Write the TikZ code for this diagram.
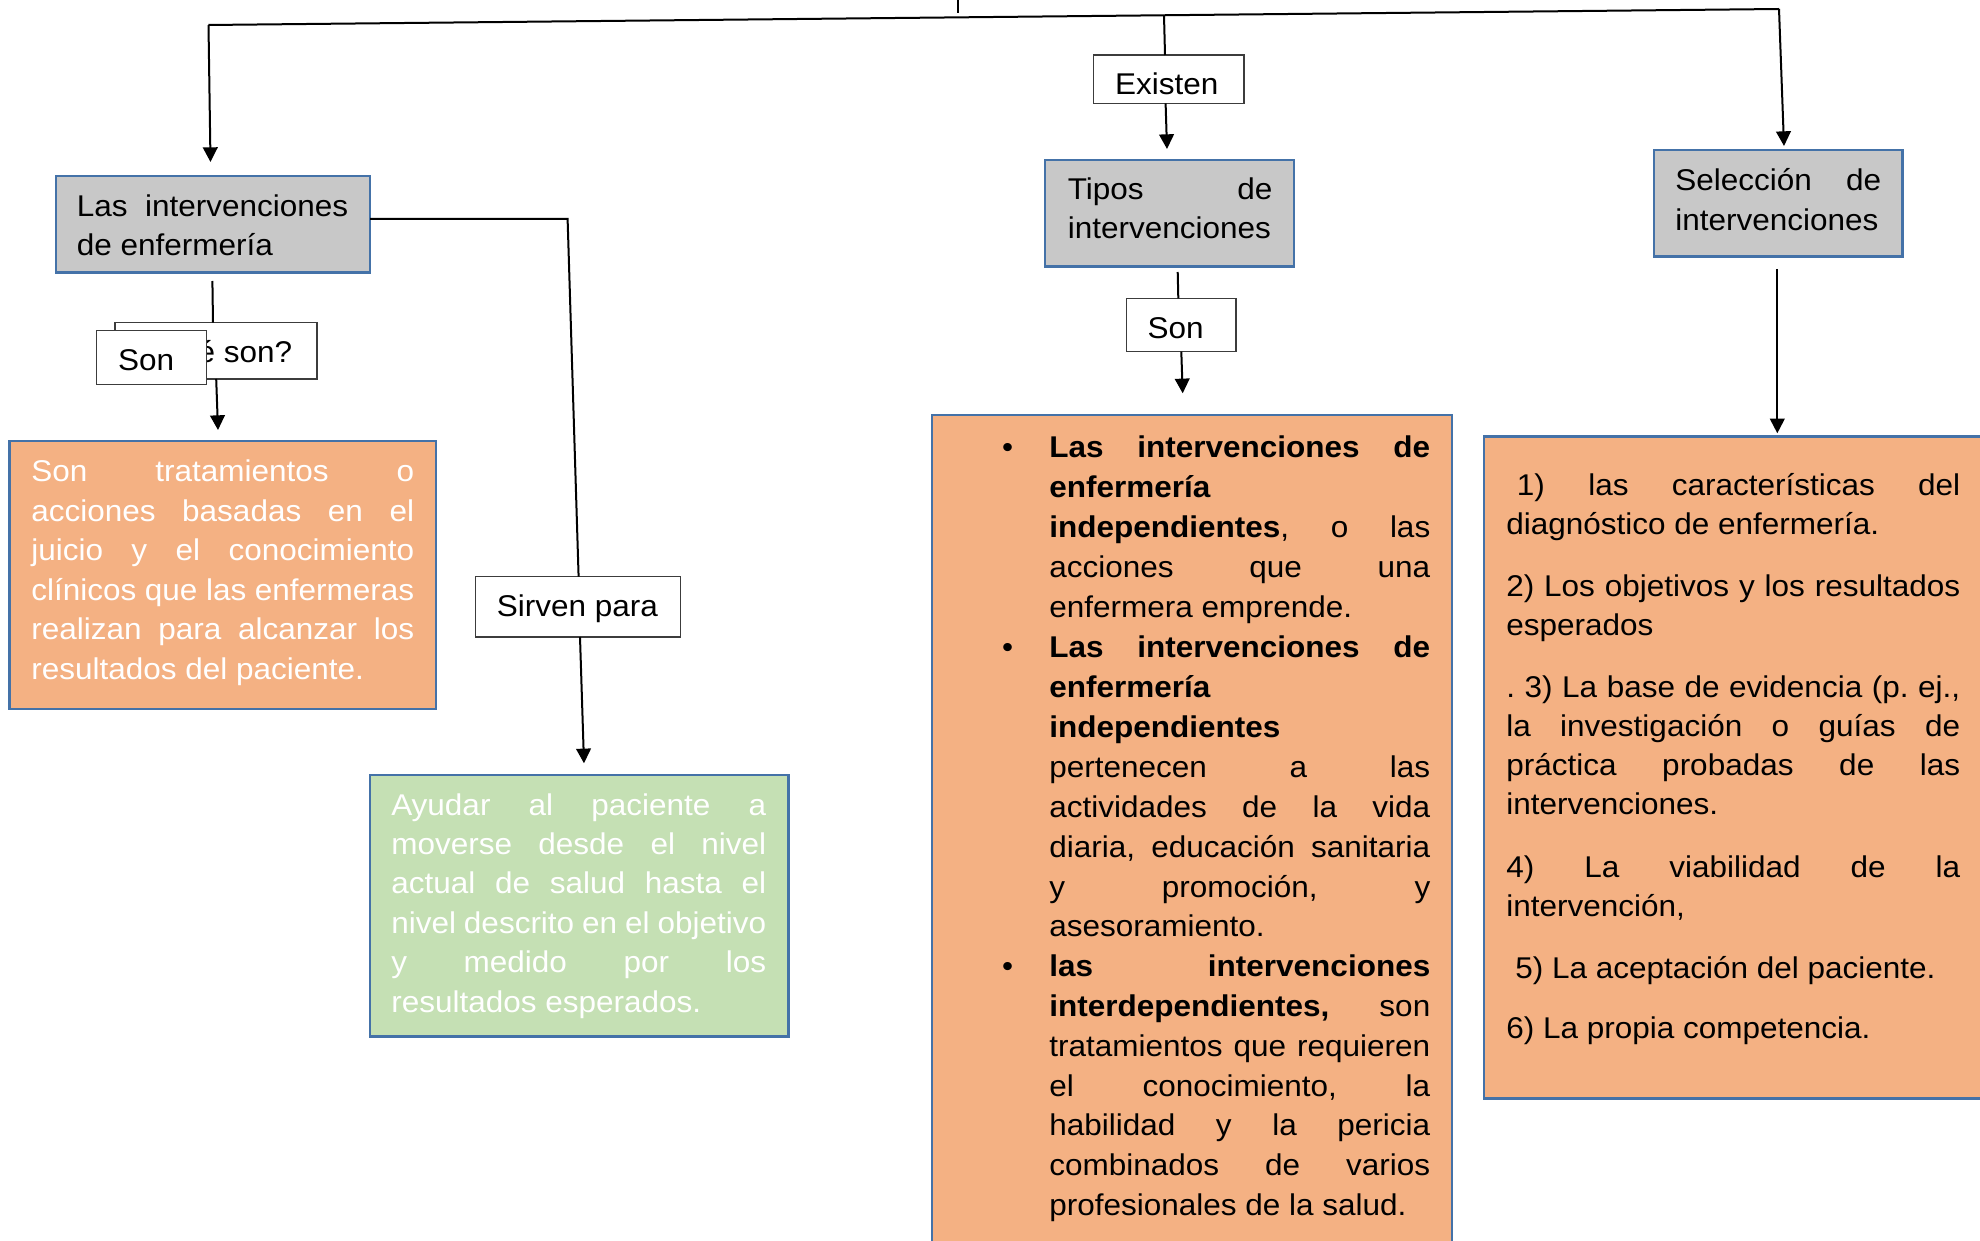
\documentclass[tikz,border=0pt]{standalone}
\usepackage{fontspec}
\setmainfont{Liberation Sans}[FakeStretch=1.05]
\usetikzlibrary{arrows.meta,fit}
\definecolor{bordblue}{RGB}{68,114,168}
\definecolor{boxgray}{RGB}{200,200,200}
\definecolor{boxorange}{RGB}{244,177,131}
\definecolor{boxgreen}{RGB}{197,224,180}
\definecolor{lblline}{RGB}{60,60,60}
\newcommand\JL[1]{\par\noindent\hbox to\hsize{#1}\par}
\newcommand\NL[1]{\par\noindent\hbox{#1}\par}
\newcommand\TB[3]{\vtop{\hsize=#1\relax\parindent=0pt\parskip=0pt\frenchspacing\baselineskip=#2\relax #3}}
\tikzset{
  gbox/.style={draw=bordblue, line width=1.9pt, fill=boxgray, inner sep=0pt},
  obox/.style={draw=bordblue, line width=1.9pt, fill=boxorange, inner sep=0pt},
  grbox/.style={draw=bordblue, line width=1.9pt, fill=boxgreen, inner sep=0pt},
  lbox/.style={draw=lblline, line width=1.1pt, fill=white, inner sep=0pt},
  txt/.style={anchor=base west, inner sep=0pt, font=\fontsize{22.5pt}{29pt}\selectfont},
  wtxt/.style={txt, text=white},
  bul/.style={anchor=base, inner sep=0pt, font=\fontsize{22.5pt}{29pt}\selectfont},
  conn/.style={line width=1.5pt, draw=black},
  arr/.style={conn, -{Triangle[length=11pt,width=11pt]}},
}
\begin{document}
\begin{tikzpicture}[x=0.75pt,y=-0.75pt]
\useasboundingbox (0,0) rectangle (1980,1241);
\clip (0,0) rectangle (1980,1241);

% ---------- main boxes ----------
\node[gbox, fit={(56,176) (370,272.7)}] (b1) {};
\node[txt] (b1t) at (76.5,217) {\TB{203.6pt}{28.9pt}{\JL{Las intervenciones}\NL{de enfermería}}};

\node[obox, fit={(9.6,441) (436,709)}] (o1) {};
\node[wtxt] (o1t) at (31,481.7) {\TB{287.25pt}{29.6pt}{%
\JL{Son tratamientos o}\JL{acciones basadas en el}\JL{juicio y el conocimiento}%
\JL{clínicos que las enfermeras}\JL{realizan para alcanzar los}\NL{resultados del paciente.}}};

\node[grbox, fit={(370,775) (788.3,1036.7)}] (gr) {};
\node[wtxt] (grt) at (391,815) {\TB{281.25pt}{29.6pt}{%
\JL{Ayudar al paciente a}\JL{moverse desde el nivel}\JL{actual de salud hasta el}%
\JL{nivel descrito en el objetivo}\JL{y medido por los}\NL{resultados esperados.}}};

\node[gbox, fit={(1045,160) (1293.75,266.7)}] (tip) {};
\node[txt] (tipt) at (1067.5,200) {\TB{153.4pt}{28.5pt}{\JL{Tipos de}\NL{intervenciones}}};

\node[gbox, fit={(1654,150) (1902.5,256.7)}] (sel) {};
\node[txt] (selt) at (1675,190.7) {\TB{154.5pt}{29.5pt}{\JL{Selección de}\NL{intervenciones}}};

\node[obox, fit={(932,415) (1452,1270)}] (big) {};
\node[bul] (bu1) at (1007.5,457.8) {•};
\node[bul] (bu2) at (1007.5,657.8) {•};
\node[bul] (bu3) at (1007.5,976.5) {•};
\node[txt] (bl1) at (1049,457.8) {\TB{285.75pt}{29.9pt}{%
\JL{\textbf{Las intervenciones de}}\NL{\textbf{enfermería}}\JL{\textbf{independientes}, o las}%
\JL{acciones que una}\NL{enfermera emprende.}}};
\node[txt] (bl2) at (1049,657.8) {\TB{285.75pt}{29.9pt}{%
\JL{\textbf{Las intervenciones de}}\NL{\textbf{enfermería}}\NL{\textbf{independientes}}%
\JL{pertenecen a las}\JL{actividades de la vida}\JL{diaria, educación sanitaria}%
\JL{y promoción, y}\NL{asesoramiento.}}};
\node[txt] (bl3) at (1049,976.5) {\TB{285.75pt}{29.9pt}{%
\JL{\textbf{las intervenciones}}\JL{\textbf{interdependientes,} son}%
\JL{tratamientos que requieren}\JL{el conocimiento, la}\JL{habilidad y la pericia}%
\JL{combinados de varios}\NL{profesionales de la salud.}}};

\node[obox, fit={(1484,436.5) (2000,1098.5)}] (rb) {};
\node[txt] (rp1) at (1506,495.9) {\TB{340.5pt}{29.25pt}{\JL{\kern8pt 1) las características del}\NL{diagnóstico de enfermería.}}};
\node[txt] (rp2) at (1506,596) {\TB{340.5pt}{29.25pt}{\JL{2) Los objetivos y los resultados}\NL{esperados}}};
\node[txt] (rp3) at (1506,697.7) {\TB{340.5pt}{29.25pt}{%
\JL{. 3) La base de evidencia (p. ej.,}\JL{la investigación o guías de}\JL{práctica probadas de las}\NL{intervenciones.}}};
\node[txt] (rp4) at (1506,877.6) {\TB{340.5pt}{29.25pt}{\JL{4) La viabilidad de la}\NL{intervención,}}};
\node[txt] (rp5) at (1506,978) {\TB{340.5pt}{29.25pt}{\NL{\kern6.75pt 5) La aceptación del paciente.}}};
\node[txt] (rp6) at (1506,1038) {\TB{340.5pt}{29.25pt}{\NL{6) La propia competencia.}}};

% ---------- label boxes ----------
\node[lbox, fit={(1093.75,55) (1243.75,103.3)}] (exi) {};
\node[txt] (exit) at (1114.75,94.5) {Existen};
\node[lbox, fit={(475.7,576.7) (680.3,637)}] (sir) {};
\node[txt] (sirt) at (496.7,616.7) {Sirven para};
\node[lbox, fit={(1126.3,298.3) (1236,351.7)}] (son2) {};
\node[txt] (son2t) at (1147.3,338.3) {Son};
\node[lbox, fit={(115,322.7) (317,379)}] (que) {};
\node[txt] (quet) at (136,362.7) {¿Qué son?};
\node[lbox, fit={(96.4,330.7) (206.7,384.3)}] (son1) {};
\node[txt] (son1t) at (117.9,370.7) {Son};

% ---------- coordinates ----------
\coordinate (tl) at (208.5,25);
\coordinate (tm) at (1164,15.3);
\coordinate (tr) at (1779,9);
\coordinate (tk1) at (958,0);
\coordinate (tk2) at (958,13);
\coordinate (a1) at (210.5,162);
\coordinate (em) at (1165,55);
\coordinate (e1) at (1165.6,103.3);
\coordinate (e2) at (1167,149);
\coordinate (r2) at (1784,146);
\coordinate (b1a) at (370,219);
\coordinate (b1b) at (567.6,219);
\coordinate (s0) at (578.6,576.7);
\coordinate (s1) at (580,637);
\coordinate (s2) at (584,763.3);
\coordinate (q0) at (212.4,281);
\coordinate (q1) at (213,322.7);
\coordinate (q2) at (216.2,379);
\coordinate (q3) at (218,430);
\coordinate (t0) at (1177.7,272);
\coordinate (t1) at (1178.3,298.3);
\coordinate (t2) at (1181.3,351.7);
\coordinate (t3) at (1182.7,393.3);
\coordinate (sl0) at (1777.3,269);
\coordinate (sl1) at (1777.3,433.3);

% ---------- connectors ----------
\draw[conn] (tl) -- (tr);
\draw[line width=1pt] (tk1) -- (tk2);
\draw[arr] (tl) -- (a1);
\draw[conn] (tm) -- (em);
\draw[arr] (e1) -- (e2);
\draw[arr] (tr) -- (r2);
\draw[conn] (b1a) -- (b1b) -- (s0);
\draw[arr] (s1) -- (s2);
\draw[conn] (q0) -- (q1);
\draw[arr] (q2) -- (q3);
\draw[conn] (t0) -- (t1);
\draw[arr] (t2) -- (t3);
\draw[arr] (sl0) -- (sl1);
\end{tikzpicture}
\end{document}
